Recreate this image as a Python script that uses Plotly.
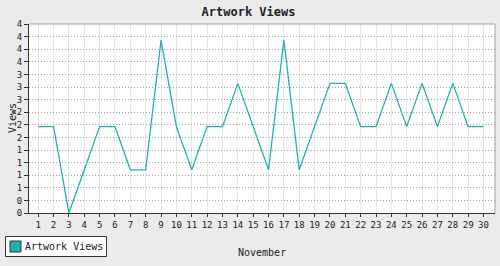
import plotly.graph_objects as go

days = list(range(1, 31))
views = [2, 2, 0, 1, 2, 2, 1, 1, 4, 2, 1, 2, 2, 3, 2, 1, 4, 1, 2, 3, 3, 2, 2, 3, 2, 3, 2, 3, 2, 2]
y_max = 4.375
y_tick_labels = ["0", "0", "1", "1", "1", "1", "2", "2", "2", "3", "3", "3", "4", "4", "4", "4"]
y_tick_vals = [i * y_max / (len(y_tick_labels) - 1) for i in range(len(y_tick_labels))]
series_name = "Artwork Views"

teal = "#20B2AA"
dark = "#333333"
font = "DejaVu Sans Mono"

# plot area in pixels: x 29..495, y 24..213
L, R, T, B = 29, 495, 24, 213
W, H = R - L, B - T


def px(x):
    return (x - L) / W


def py(y):
    return (B - y) / H


fig = go.Figure()
fig.add_trace(go.Scatter(x=days, y=views, mode="lines", line=dict(color=teal, width=1.3),
                         showlegend=False, hoverinfo="skip", name=series_name))

fig.update_layout(
    width=500, height=266,
    margin=dict(l=L, r=500 - R, t=T, b=266 - B, autoexpand=False),
    showlegend=False,
    paper_bgcolor="#EBEBEB", plot_bgcolor="white",
    font=dict(family=font, size=9, color="#222222"),
    title=dict(text="<b>Artwork Views</b>", x=0.497, xref="container", xanchor="center",
               y=0.955, yref="container", yanchor="middle",
               font=dict(family=font, size=12, color="#222222")),
    xaxis=dict(range=[0.4, 30.75], tickvals=days, ticktext=[str(d) for d in days],
               showgrid=True, gridcolor="#E6E6E6", gridwidth=1,
               showline=True, linecolor=dark, linewidth=1,
               ticks="outside", ticklen=3, tickcolor=dark, zeroline=False,
               tickfont=dict(size=9)),
    yaxis=dict(range=[0, y_max], tickvals=y_tick_vals, ticktext=y_tick_labels,
               showgrid=True, gridcolor="#A0A0A0", griddash="1px,2px", gridwidth=1,
               showline=True, linecolor=dark, linewidth=1,
               ticks="outside", ticklen=4, tickcolor=dark, zeroline=False,
               tickfont=dict(size=9)),
    shapes=[
        dict(type="line", xref="paper", yref="paper", x0=0, x1=1, y0=1, y1=1,
             line=dict(color="#A0A0A0", width=1)),
        dict(type="line", xref="paper", yref="paper", x0=1, x1=1, y0=0, y1=1,
             line=dict(color="#A0A0A0", width=1)),
        # legend box
        dict(type="rect", xref="paper", yref="paper", x0=px(5.5), x1=px(106.5),
             y0=py(256.5), y1=py(236.5), fillcolor="white",
             line=dict(color=dark, width=1)),
        dict(type="rect", xref="paper", yref="paper", x0=px(10), x1=px(21),
             y0=py(252), y1=py(241), fillcolor=teal,
             line=dict(color=dark, width=1)),
    ],
    annotations=[
        dict(text="November", xref="paper", yref="paper", x=0.5, y=py(252),
             xanchor="center", yanchor="middle", showarrow=False,
             font=dict(family=font, size=10, color="#222222")),
        dict(text="Views", xref="paper", yref="paper", x=px(12), y=py(118),
             xanchor="center", yanchor="middle", showarrow=False, textangle=-90,
             font=dict(family=font, size=10, color="#222222")),
        dict(text=series_name, xref="paper", yref="paper", x=px(23), y=py(246.5),
             xanchor="left", yanchor="middle", showarrow=False,
             font=dict(family=font, size=10, color="#222222")),
    ],
)

fig.write_html("out.html")
